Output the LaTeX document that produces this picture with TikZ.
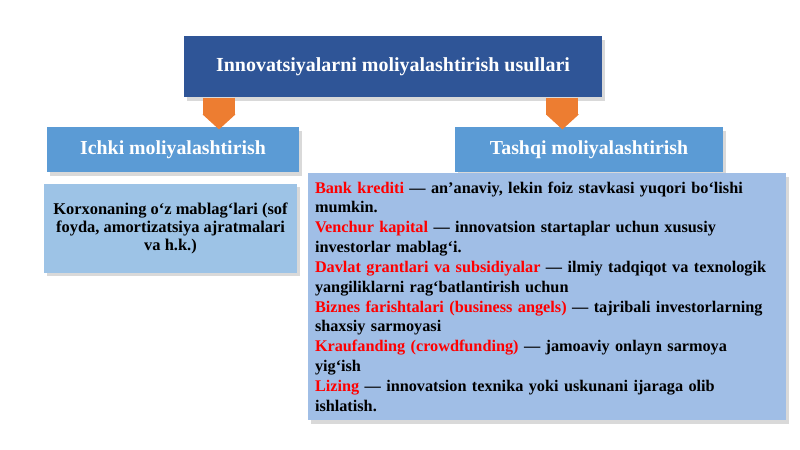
\documentclass[tikz,border=0pt]{standalone}
\usepackage{fontspec}
\setmainfont{Liberation Serif}
\usetikzlibrary{shapes}
\usetikzlibrary{positioning}
\usetikzlibrary{shadows}
\usetikzlibrary{arrows.meta}
\definecolor{darkblue}{RGB}{47,85,151}
\definecolor{midblue}{RGB}{91,155,213}
\definecolor{lightblue}{RGB}{157,195,230}
\definecolor{paleblue}{RGB}{160,190,230}
\definecolor{connorange}{RGB}{237,125,49}
\newcommand{\qizil}[1]{\textcolor{red}{#1}}

\begin{document}
\begin{tikzpicture}[>=Triangle,thick,
  box/.style={rectangle,inner sep=0pt,align=center,drop shadow={shadow xshift=2pt,shadow yshift=-2.5pt,opacity=0.3}},
  title node/.style={box,fill=darkblue,text=white,minimum width=10.45cm,minimum height=1.525cm,font=\fontsize{14.2}{16}\selectfont\bfseries},
  head node/.style={box,fill=midblue,text=white,minimum height=1.125cm,font=\fontsize{14.1}{16}\selectfont\bfseries},
  body node/.style={box,text=black},
  link/.style={draw=connorange,line width=0.8cm,-{Triangle[length=0.375cm,width=0.8cm,color=connorange]},shorten >=-0.075cm}]

	      \useasboundingbox (0,0) rectangle (20,-11.225);

	      \node[title node] at (9.825,-1.6625) (top) {Innovatsiyalarni moliyalashtirish usullari};
	      \node[head node,minimum width=6.3cm] at (4.325,-3.7375) (ichki) {Ichki moliyalashtirish};
	      \node[head node,minimum width=6.7cm] at (14.725,-3.7375) (tashqi) {Tashqi moliyalashtirish};
	      \node[body node,fill=lightblue,minimum width=6.325cm,minimum height=2.225cm,font=\fontsize{11.7}{12.8}\selectfont\bfseries] at (4.2625,-5.7) (ichkibody)
	        {Korxonaning o‘z mablag‘lari (sof\\ foyda, amortizatsiya ajratmalari\\ va h.k.)};
	      \node[body node,fill=paleblue,minimum width=11.95cm,minimum height=6.175cm,text width=11.6cm,align=left,font=\fontsize{11.55}{14.1}\selectfont\bfseries] at (13.675,-7.4125) (tashqibody)
	        {\qizil{Bank krediti} — an’anaviy, lekin foiz stavkasi yuqori bo‘lishi\\
	         mumkin.\\
	         \qizil{Venchur kapital} — innovatsion startaplar uchun xususiy\\
	         investorlar mablag‘i.\\
	         \qizil{Davlat grantlari va subsidiyalar} — ilmiy tadqiqot va texnologik\\
	         yangiliklarni rag‘batlantirish uchun\\
	         \qizil{Biznes farishtalari (business angels)} — tajribali investorlarning\\
	         shaxsiy sarmoyasi\\
	         \qizil{Kraufanding (crowdfunding)} — jamoaviy onlayn sarmoya\\
	         yig‘ish\\
	         \qizil{Lizing} — innovatsion texnika yoki uskunani ijaraga olib\\
	         ishlatish.};

	      \coordinate (lx) at (5.475,0);
	      \coordinate (rx) at (14.06,0);

	      \path
	      (top.south -| lx) edge[link] (ichki.north -| lx)
	      (top.south -| rx) edge[link] (tashqi.north -| rx)
	      ;

	    \end{tikzpicture}
\end{document}
